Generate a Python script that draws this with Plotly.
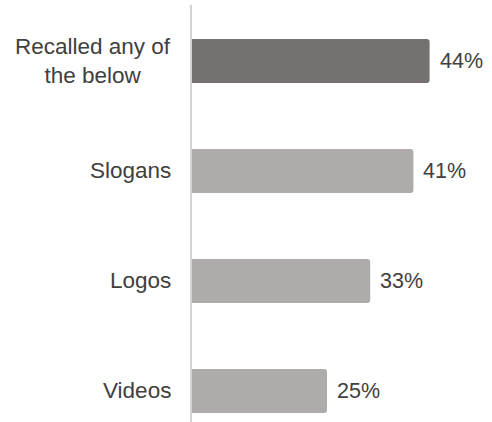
import plotly.graph_objects as go

# Recall of campaign elements (share of respondents, %)
categories = ["Recalled any of<br>the below", "Slogans", "Logos", "Videos"]
values = [44, 41, 33, 25]
bar_colors = ["#757171", "#AFABAB", "#AFABAB", "#AFABAB"]

font_family = "Liberation Sans, Arial, sans-serif"
text_color = "#404040"

fig = go.Figure(
    go.Bar(
        x=values,
        y=categories,
        orientation="h",
        marker=dict(color=bar_colors, line=dict(width=0)),
        width=0.4,
        hoverinfo="skip",
    )
)

annotations = []
for cat, val in zip(categories, values):
    # category label, right-aligned left of the axis, lines centred
    annotations.append(dict(
        x=0, xref="paper", y=cat, yref="y",
        text=cat, showarrow=False,
        xanchor="right", yanchor="middle", align="center",
        xshift=-19,
        font=dict(family=font_family, size=22.5, color=text_color),
    ))
    # value label just past the bar end
    annotations.append(dict(
        x=val, xref="x", y=cat, yref="y",
        text=f"{val}%", showarrow=False,
        xanchor="left", yanchor="middle",
        xshift=8,
        font=dict(family=font_family, size=21.5, color=text_color),
    ))

fig.update_layout(
    width=492,
    height=422,
    margin=dict(l=192, r=30, t=5, b=0),
    paper_bgcolor="white",
    plot_bgcolor="white",
    showlegend=False,
    barcornerradius=3,
    annotations=annotations,
    xaxis=dict(visible=False, range=[0, 50], fixedrange=True),
    yaxis=dict(
        type="category",
        range=[3.282, -0.509],
        showticklabels=False,
        showgrid=False,
        zeroline=False,
        showline=True,
        linecolor="#D4D4D4",
        linewidth=1.5,
        ticks="",
        fixedrange=True,
    ),
)

fig.write_html("out.html")
